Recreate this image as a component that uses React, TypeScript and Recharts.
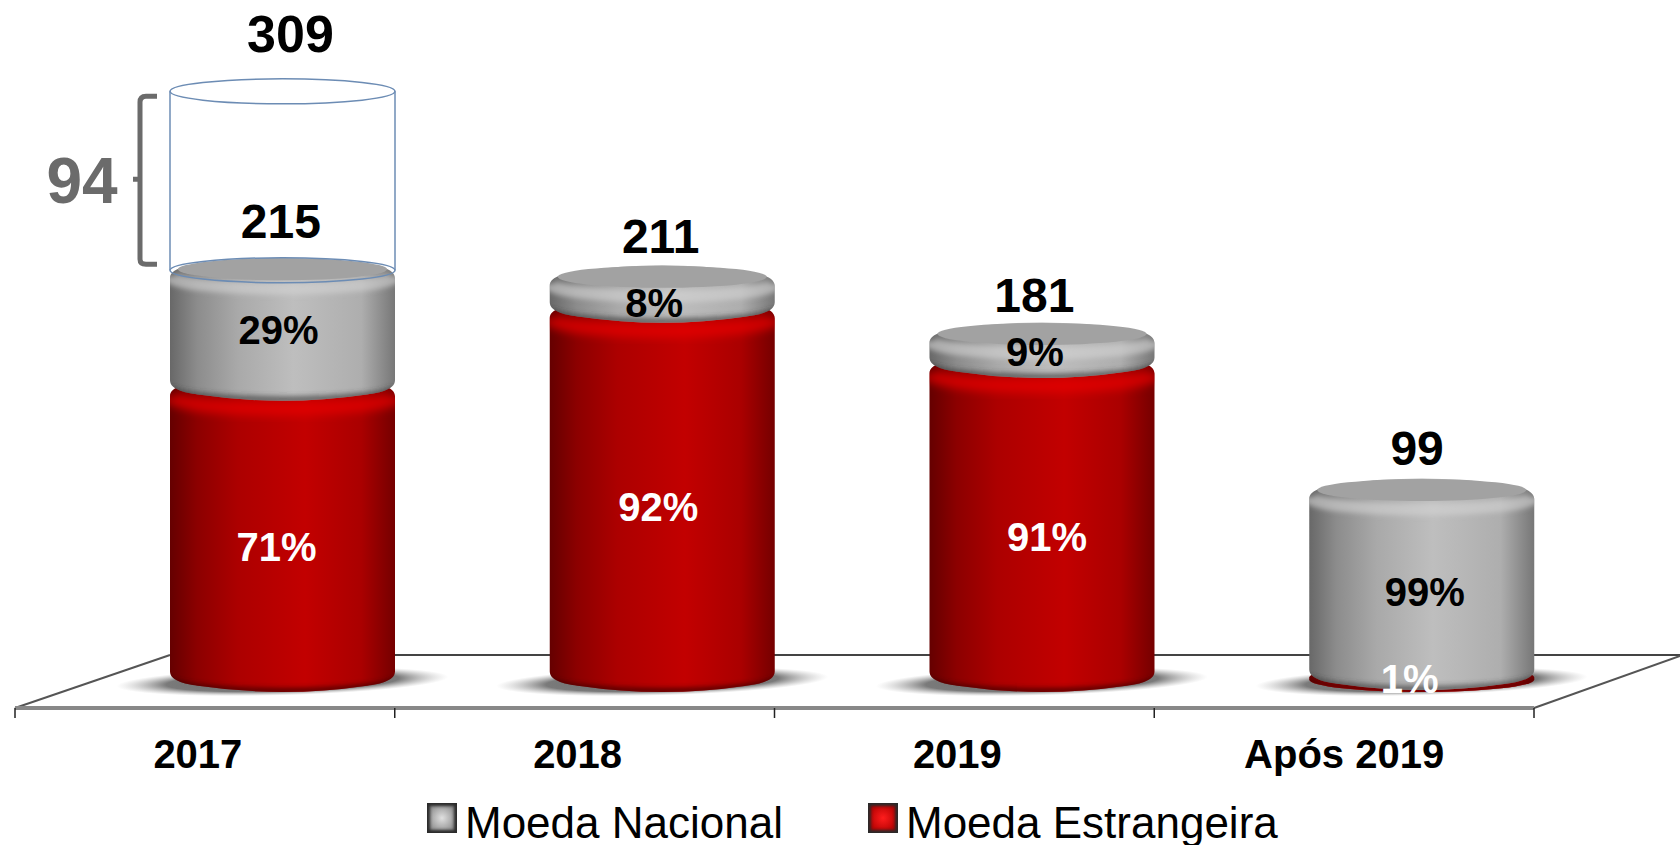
import React from "react";
import { ComposedChart, Bar, Line, XAxis, YAxis, Legend, LabelList } from "recharts";

const categories = ["2017", "2018", "2019", "Após 2019"];
const moedaEstrangeira = [153, 194, 165, 1];
const moedaNacional = [62, 17, 16, 98];
const acrescimo = [94, null, null, null];
const totais = [215, 211, 181, 99];
const totalComAcrescimo = 309;
const pctEstrangeira = ["71%", "92%", "91%", "1%"];
const pctNacional = ["29%", "8%", "9%", "99%"];
const legendLabels = ["Moeda Nacional", "Moeda Estrangeira"];

const chartData = categories.map((category, i) => ({
  category,
  estrangeira: moedaEstrangeira[i],
  nacional: moedaNacional[i],
  acrescimo: acrescimo[i],
  total: totais[i],
}));

// layout: the 3D bars sit at the right of each band; nudges for hand-placed slide labels
const FONT = "'Liberation Sans', Arial, sans-serif";
const BAR_W = 225;
const BAR_DX = 78;
const RY = 12.5;
const BAND = 379.75;
const nudgeEstr = [[-6, 27], [-4, 26], [5, 29], [-12, 14]];
const nudgeNac = [[-4, 15], [-8, 23], [-7, 16], [3, 22]];
const nudgeTotal = [[76, -32], [76, -24.5], [70, -23], [73, -26]];

const silhouette = (L: number, R: number, top: number, bot: number) => {
  const cx = (L + R) / 2;
  return (
    `M${L},${top + 8} C${L},${top - 2} ${L + 18},${top - 5} ${L + 30},${top - 6.5} ` +
    `Q${cx},${top - 18.5} ${R - 30},${top - 6.5} C${R - 18},${top - 5} ${R},${top - 2} ${R},${top + 8} ` +
    `L${R},${bot - 8} C${R},${bot + 2} ${R - 18},${bot + 5} ${R - 30},${bot + 6.5} ` +
    `Q${cx},${bot + 18.5} ${L + 30},${bot + 6.5} C${L + 18},${bot + 5} ${L},${bot + 2} ${L},${bot - 8} Z`
  );
};

const Cylinder = ({ x, y, width, height, index, kind }: any) => {
  const L = x + BAR_DX;
  const R = L + width;
  const top = y;
  const bot = y + height;
  const id = `clip-${kind}-${index}`;
  const plain = `M${L},${top} A${width / 2},${RY} 0 0 1 ${R},${top} L${R},${bot} A${width / 2},${RY} 0 0 1 ${L},${bot} Z`;
  const full = height < 16 && kind === "red" ? plain : silhouette(L, R, top, bot);
  const frontTop = (d: number) => `M${L},${top + d} A${width / 2},${RY} 0 0 0 ${R},${top + d}`;
  const frontBot = `M${L},${bot - 1} A${width / 2},${RY} 0 0 0 ${R},${bot - 1}`;
  const cx = (L + R) / 2;
  if (kind === "red") {
    return (
      <g>
        <ellipse cx={cx} cy={bot + 2} rx={166} ry={14} fill="url(#floorShadow)" transform={`rotate(-1.6 ${cx} ${bot + 2})`} />
        <clipPath id={id}><path d={full} /></clipPath>
        <path d={full} fill="url(#redSide)" />
        <g clipPath={`url(#${id})`}>
          <path d={frontTop(8)} fill="none" stroke="#e80000" strokeOpacity={0.7} strokeWidth={14} filter="url(#softer)" />
          <path d={frontBot} fill="none" stroke="#3c0000" strokeOpacity={0.75} strokeWidth={6} filter="url(#soft)" />
        </g>
      </g>
    );
  }
  return (
    <g>
      <clipPath id={id}><path d={full} /></clipPath>
      <path d={full} fill="url(#graySide)" />
      <g clipPath={`url(#${id})`}>
        <path d={frontTop(6)} fill="none" stroke="#d4d4d4" strokeOpacity={0.6} strokeWidth={12} filter="url(#soft)" />
        <path d={frontBot} fill="none" stroke="#3a3a3a" strokeOpacity={0.65} strokeWidth={7} filter="url(#soft)" />
      </g>
      <ellipse cx={cx} cy={top - 1} rx={width / 2 - 8} ry={RY - 1.5} fill="#a2a2a2" filter="url(#edge)" />
    </g>
  );
};

const Ghost = ({ x, y, width, height, index }: any) => {
  if (index !== 0 || !height) return null;
  const L = x + BAR_DX;
  const R = L + width;
  const cx = (L + R) / 2;
  const stroke = "#6c8cb4";
  return (
    <g fill="none" stroke={stroke} strokeWidth={1.5}>
      <ellipse cx={cx} cy={y} rx={width / 2} ry={RY} />
      <ellipse cx={cx} cy={y + height} rx={width / 2} ry={RY} />
      <line x1={L} x2={L} y1={y} y2={y + height} />
      <line x1={R} x2={R} y1={y} y2={y + height} />
    </g>
  );
};

const pctLabel = (texts: string[], nudges: number[][], fill: string) => (p: any) => {
  const vb = p.viewBox ?? p;
  const i = p.index;
  return (
    <text
      x={vb.x + vb.width / 2 + BAR_DX + nudges[i][0]}
      y={vb.y + vb.height / 2 + nudges[i][1]}
      textAnchor="middle"
      fontFamily={FONT}
      fontWeight={700}
      fontSize={40}
      fill={fill}
    >
      {texts[i]}
    </text>
  );
};

const totalLabel = (p: any) => {
  const vb = p.viewBox ?? p;
  const i = p.index;
  return (
    <text x={vb.x + nudgeTotal[i][0]} y={vb.y + nudgeTotal[i][1]} textAnchor="middle" fontFamily={FONT} fontWeight={700} fontSize={48} fill="#000">
      {totais[i]}
    </text>
  );
};

const grandLabel = (p: any) => {
  if (p.index !== 0) return null;
  const vb = p.viewBox ?? p;
  return (
    <g fontFamily={FONT} fontWeight={700}>
      <text x={vb.x + vb.width / 2 + BAR_DX + 8} y={vb.y - 39} textAnchor="middle" fontSize={52} fill="#000">
        {totalComAcrescimo}
      </text>
      <text x={82} y={vb.y + 112} textAnchor="middle" fontSize={64} fill="#6b6b6b">
        {acrescimo[0]}
      </text>
      <path
        d={`M157,${vb.y + 5} L146,${vb.y + 5} Q140,${vb.y + 5} 140,${vb.y + 11} L140,${vb.y + 88} L133,${vb.y + 88} L140,${vb.y + 88} L140,${vb.y + 168} Q140,${vb.y + 173} 146,${vb.y + 173} L157,${vb.y + 173}`}
        fill="none"
        stroke="#6b6b6b"
        strokeWidth={5}
      />
    </g>
  );
};

const AxisTick = ({ x, y, payload, index }: any) => {
  const i = payload?.index ?? index ?? 0;
  const top = 708;
  return (
    <g>
      {i === 0 && <line x1={x - BAND / 2} x2={x - BAND / 2} y1={top} y2={top + 10} stroke="#222" strokeWidth={1.5} />}
      <line x1={x + BAND / 2} x2={x + BAND / 2} y1={top} y2={top + 10} stroke="#222" strokeWidth={1.5} />
      <text x={i === 3 ? x : x - 7} y={768} textAnchor="middle" fontFamily={FONT} fontWeight={700} fontSize={40} fill="#000">
        {payload.value}
      </text>
    </g>
  );
};

const swatchStyles: Record<string, string> = {
  [legendLabels[0]]: "radial-gradient(circle, #e0e0e0, #8a8a8a 75%)",
  [legendLabels[1]]: "radial-gradient(circle, #ff1d1d, #b00000 75%)",
};

const LegendContent = () => {
  const lefts = [427, 868];
  return (
    <div style={{ position: "relative", width: 1680, height: 42, fontFamily: FONT, fontSize: 44, color: "#000" }}>
      {legendLabels.map((label: string, i: number) => (
        <div key={label} style={{ position: "absolute", left: lefts[i], top: 0, display: "flex", whiteSpace: "nowrap" }}>
          <div
            style={{
              width: 30,
              height: 30,
              boxSizing: "border-box",
              background: swatchStyles[label],
              boxShadow: "inset 0 0 3px 3px #2a2a2a",
              marginRight: 8,
            }}
          />
          <span style={{ lineHeight: "44px", marginTop: -2 }}>{label}</span>
        </div>
      ))}
    </div>
  );
};

export default function App() {
  return (
    <div style={{ position: "absolute", left: 0, top: 0, width: 1680, height: 845, overflow: "hidden", background: "#fff" }}>
      <ComposedChart
        width={1680}
        height={845}
        data={chartData}
        margin={{ top: 0, right: 146, bottom: 0, left: 15 }}
        barCategoryGap={0}
      >
        <defs>
          <linearGradient id="redSide" x1="0" x2="1" y1="0" y2="0">
            <stop offset="0" stopColor="#650000" />
            <stop offset="0.12" stopColor="#8c0000" />
            <stop offset="0.3" stopColor="#ac0000" />
            <stop offset="0.6" stopColor="#c20000" />
            <stop offset="0.85" stopColor="#aa0000" />
            <stop offset="1" stopColor="#750000" />
          </linearGradient>
          <linearGradient id="graySide" x1="0" x2="1" y1="0" y2="0">
            <stop offset="0" stopColor="#686868" />
            <stop offset="0.12" stopColor="#8c8c8c" />
            <stop offset="0.3" stopColor="#a9a9a9" />
            <stop offset="0.55" stopColor="#bebebe" />
            <stop offset="0.85" stopColor="#aeaeae" />
            <stop offset="1" stopColor="#777" />
          </linearGradient>
          <radialGradient id="floorShadow">
            <stop offset="0" stopColor="#666" />
            <stop offset="0.7" stopColor="#7a7a7a" />
            <stop offset="1" stopColor="#bbb" stopOpacity={0} />
          </radialGradient>
          <filter id="soft" x="-10%" y="-100%" width="120%" height="300%">
            <feGaussianBlur stdDeviation="2.5" />
          </filter>
          <filter id="softer" x="-10%" y="-100%" width="120%" height="300%">
            <feGaussianBlur stdDeviation="4" />
          </filter>
          <filter id="edge" x="-5%" y="-20%" width="110%" height="140%">
            <feGaussianBlur stdDeviation="0.7" />
          </filter>
        </defs>
        <g>
          <line x1={15} y1={708} x2={170} y2={655} stroke="#555" strokeWidth={2} />
          <line x1={170} y1={655} x2={1680} y2={655} stroke="#444" strokeWidth={2} />
          <line x1={1534} y1={708} x2={1680} y2={656} stroke="#555" strokeWidth={2} />
        </g>
        <XAxis
          dataKey="category"
          height={95}
          interval={0}
          axisLine={{ stroke: "#888", strokeWidth: 4 }}
          tickLine={false}
          tick={<AxisTick />}
        />
        <YAxis hide domain={[-15, 357]} />
        <Bar
          dataKey="estrangeira"
          name={legendLabels[1]}
          stackId="a"
          barSize={BAR_W}
          fill="#c00000"
          isAnimationActive={false}
          shape={(p: any) => <Cylinder {...p} kind="red" />}
        >
          <LabelList content={pctLabel(pctEstrangeira, nudgeEstr, "#fff")} />
        </Bar>
        <Bar
          dataKey="nacional"
          name={legendLabels[0]}
          stackId="a"
          barSize={BAR_W}
          fill="#a6a6a6"
          isAnimationActive={false}
          shape={(p: any) => <Cylinder {...p} kind="gray" />}
        >
          <LabelList content={pctLabel(pctNacional, nudgeNac, "#000")} />
        </Bar>
        <Bar
          dataKey="acrescimo"
          stackId="a"
          barSize={BAR_W}
          fill="none"
          legendType="none"
          isAnimationActive={false}
          shape={(p: any) => <Ghost {...p} />}
        >
          <LabelList content={grandLabel} />
        </Bar>
        <Line dataKey="total" stroke="none" dot={false} activeDot={false} legendType="none" isAnimationActive={false}>
          <LabelList content={totalLabel} />
        </Line>
        <Legend verticalAlign="bottom" height={42} content={<LegendContent />} wrapperStyle={{ left: 0, width: 1680 }} />
      </ComposedChart>
    </div>
  );
}
